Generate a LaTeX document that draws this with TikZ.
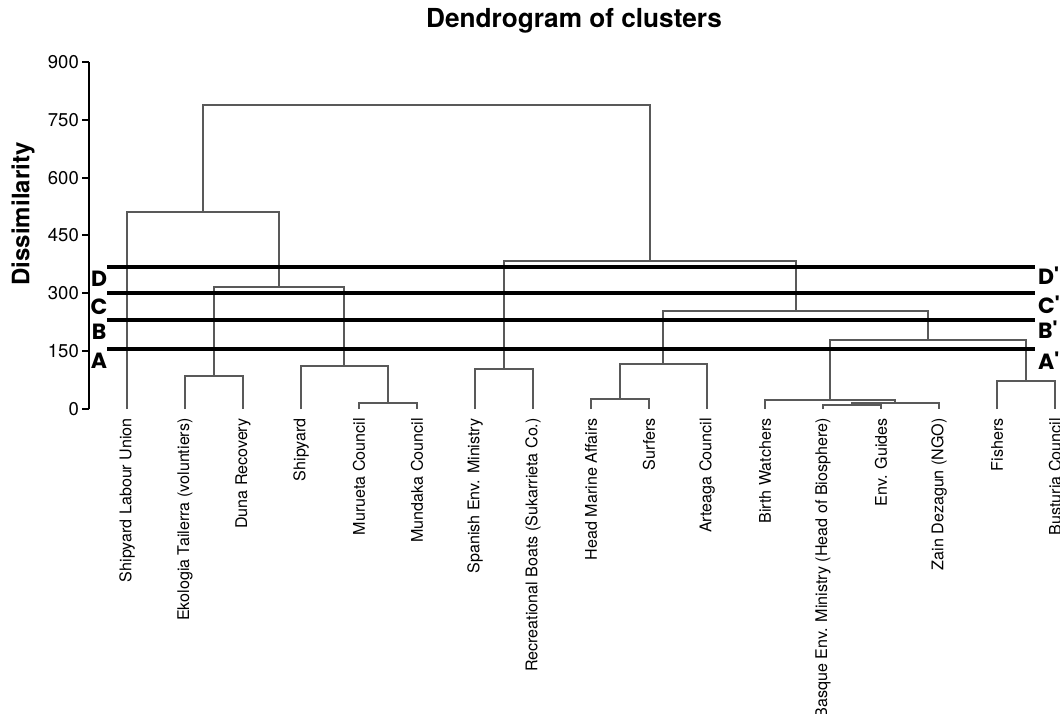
\documentclass[tikz,border=0pt]{standalone}
\usepackage{fontspec}
\setmainfont{TeX Gyre Heros}
\newfontfamily\letterfont{Poppins}
\begin{document}
\begin{tikzpicture}[x=1pt,y=-1pt,
  dend/.style={draw=black!65, line width=1.4pt},
  cutline/.style={line width=3.2pt, draw=black},
  leaflabel/.style={rotate=90, anchor=east, inner sep=0pt, font=\fontsize{16.1}{18}\selectfont},
  ticklabel/.style={anchor=east, inner sep=0pt, font=\fontsize{18.5}{20}\selectfont},
  cutlabel/.style={inner sep=0pt, font=\letterfont\bfseries\fontsize{22}{24}\selectfont}]
\useasboundingbox (0,0) rectangle (1060,714);

% title and axis label
\node[font=\bfseries\fontsize{26.2}{28}\selectfont, inner sep=0pt] (title) at (574,21) {Dendrogram of clusters};
\node[rotate=90, font=\bfseries\fontsize{24}{26}\selectfont, inner sep=0pt] (ylab) at (23,214) {Dissimilarity};

% y axis
\coordinate (ax0) at (89,409);
\coordinate (ax1) at (89,62);
\draw[line width=2.5pt] (ax0) -- (ax1);
\foreach \v in {0,150,...,900}{
  \coordinate (tk\v) at (89,{409-0.3856*\v});
  \draw[line width=2pt] (tk\v) -- ++(-7,0);
  \node[ticklabel] (tl\v) at (79,{409-0.3856*\v}) {\v};
}

% leaves
\foreach \i/\t in {1/Shipyard Labour Union,2/Ekologia Tailerra (voluntiers),3/Duna Recovery,4/Shipyard,5/Murueta Council,6/Mundaka Council,7/Spanish Env. Ministry,8/Recreational Boats (Sukarrieta Co.),9/Head Marine Affairs,10/Surfers,11/Arteaga Council,12/Birth Watchers,13/Basque Env. Ministry (Head of Biosphere),14/Env. Guides,15/Zain Dezagun (NGO),16/Fishers,17/Busturia Council}{
  \coordinate (L\i) at ({127+58*(\i-1)},409);
  \node[leaflabel] (n\i) at ({127+58*(\i-1)},418) {\t};
}

% merge points
\coordinate (m23) at (214,376);
\coordinate (m56) at (388,403);
\coordinate (m456) at (344,366);
\coordinate (mL) at (279,287);
\coordinate (mTL) at (203,212);
\coordinate (m78) at (504,369);
\coordinate (m910) at (620,399);
\coordinate (m911) at (663,364);
\coordinate (m1314) at (852,405);
\coordinate (m1315) at (895,403);
\coordinate (m1215) at (830,400);
\coordinate (m1617) at (1026,381);
\coordinate (mBF) at (928,340);
\coordinate (mArt) at (796,311);
\coordinate (mR) at (650,261);
\coordinate (mTop) at (426.5,105);

% dendrogram
\draw[dend] (L2) |- (m23) -| (L3);
\draw[dend] (L5) |- (m56) -| (L6);
\draw[dend] (L4) |- (m456) -| (m56);
\draw[dend] (m23) |- (mL) -| (m456);
\draw[dend] (L1) |- (mTL) -| (mL);
\draw[dend] (L7) |- (m78) -| (L8);
\draw[dend] (L9) |- (m910) -| (L10);
\draw[dend] (m910) |- (m911) -| (L11);
\draw[dend] (L13) |- (m1314) -| (L14);
\draw[dend] (m1314) |- (m1315) -| (L15);
\draw[dend] (L12) |- (m1215) -| (m1315);
\draw[dend] (L16) |- (m1617) -| (L17);
\draw[dend] (m1215) |- (mBF) -| (m1617);
\draw[dend] (m911) |- (mArt) -| (mBF);
\draw[dend] (m78) |- (mR) -| (mArt);
\draw[dend] (mTL) |- (mTop) -| (mR);

% cut lines
\foreach \c/\y/\ly/\ry in {D/267/279/276,C/293/307/305,B/320/332/330,A/349/361/361}{
  \coordinate (\c l) at (107,\y);
  \coordinate (\c r) at (1035,\y);
  \draw[cutline] (\c l) -- (\c r);
  \node[cutlabel] (\c lab) at (99,\ly) {\c};
  \node[cutlabel, anchor=west] (\c rlab) at (1038,\ry) {\c'};
}
\end{tikzpicture}
\end{document}
